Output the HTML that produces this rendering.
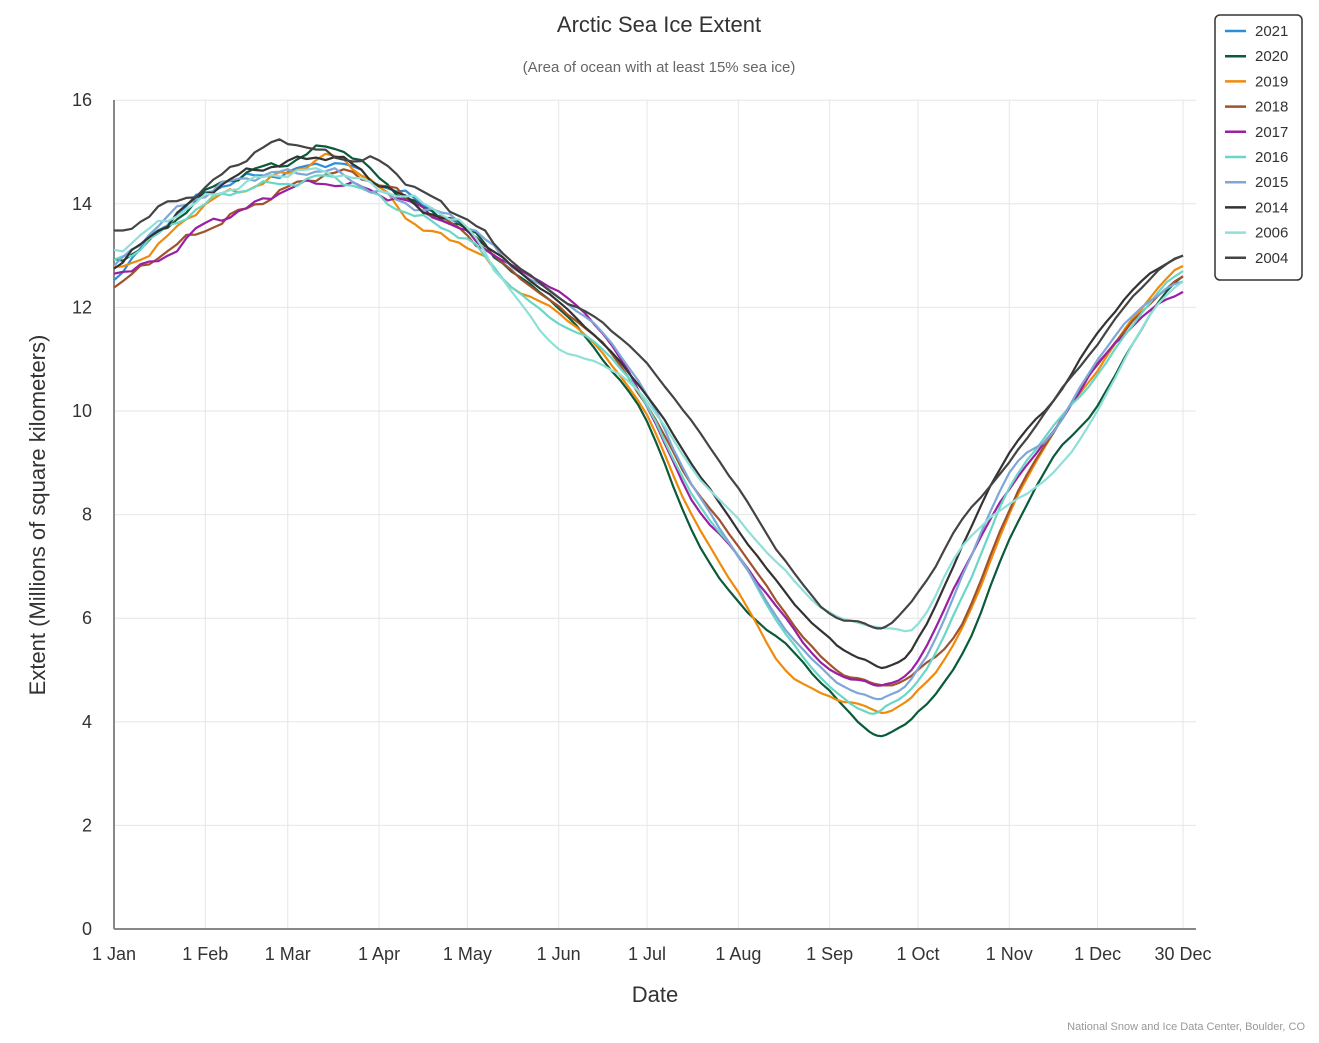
<!DOCTYPE html>
<html><head><meta charset="utf-8"><style>
body{margin:0;background:#fff;}
text{font-family:"Liberation Sans",sans-serif;}
</style></head><body>
<svg id="s" width="1319" height="1038" xmlns="http://www.w3.org/2000/svg">
<rect width="1319" height="1038" fill="#fff"/>
<text x="659" y="32" text-anchor="middle" font-size="22" fill="#333">Arctic Sea Ice Extent</text>
<text x="659" y="72" text-anchor="middle" font-size="15" fill="#666">(Area of ocean with at least 15% sea ice)</text>
<g id="grid" stroke="#e6e6e6" stroke-width="1"></g>
<g id="lbl" font-size="18" fill="#333"></g>
<line x1="114" y1="100" x2="114" y2="929" stroke="#888" stroke-width="2"/>
<line x1="114" y1="929" x2="1196" y2="929" stroke="#888" stroke-width="2"/>
<g id="series" fill="none" stroke-width="2.2" stroke-linejoin="round"></g>
<text x="655" y="1002" text-anchor="middle" font-size="22" fill="#333">Date</text>
<text transform="translate(45,515) rotate(-90)" text-anchor="middle" font-size="22" fill="#333">Extent (Millions of square kilometers)</text>
<text x="1305" y="1030" text-anchor="end" font-size="11" fill="#999">National Snow and Ice Data Center, Boulder, CO</text>
<rect x="1215" y="15" width="87" height="265" rx="5" fill="#fff" stroke="#333" stroke-width="1.5"/>
<g id="leg" font-size="15" fill="#333"></g>
</svg>
<script>
const X=d=>114+d*2.945, Y=v=>929-v*51.8;
const g=document.getElementById('grid'),l=document.getElementById('lbl');
const ns='http://www.w3.org/2000/svg';
function el(p,t,a,txt){const e=document.createElementNS(ns,t);for(const k in a)e.setAttribute(k,a[k]);if(txt!==undefined)e.textContent=String(txt);p.appendChild(e);return e;}
for(let v=2;v<=16;v+=2)el(g,'line',{x1:114,x2:1196,y1:Y(v),y2:Y(v)});
for(let v=0;v<=16;v+=2)el(l,'text',{x:92,y:Y(v)+6,'text-anchor':'end'},v);
const ms=[[0,'1 Jan'],[31,'1 Feb'],[59,'1 Mar'],[90,'1 Apr'],[120,'1 May'],[151,'1 Jun'],[181,'1 Jul'],[212,'1 Aug'],[243,'1 Sep'],[273,'1 Oct'],[304,'1 Nov'],[334,'1 Dec'],[363,'30 Dec']];
ms.forEach(([d,t],i)=>{if(i>0)el(g,'line',{x1:X(d),x2:X(d),y1:100,y2:929});el(l,'text',{x:X(d),y:960,'text-anchor':'middle'},t);});
const D=[0,15,31,45,59,75,90,105,120,135,151,166,181,196,212,228,243,255,262,273,288,304,319,334,349,363];
const S=[
['2004','#444',[13.4,13.9,14.3,14.9,15.2,14.9,14.8,14.2,13.7,12.9,12.2,11.7,10.9,9.8,8.5,7.1,6.1,5.9,5.85,6.5,7.9,9.0,10.2,11.3,12.4,13.0]],
['2006','#8fe0d8',[13.1,13.6,14.1,14.4,14.6,14.6,14.3,14.0,13.5,12.3,11.2,10.9,10.2,8.9,7.9,6.9,6.1,5.9,5.8,5.9,7.4,8.2,8.8,10.0,11.6,12.5]],
['2014','#333',[12.8,13.5,14.2,14.6,14.8,14.9,14.4,13.9,13.5,12.8,12.1,11.3,10.3,9.0,7.7,6.5,5.6,5.2,5.05,5.6,7.4,9.2,10.2,11.5,12.5,13.0]],
['2015','#7ea6d8',[12.8,13.6,14.2,14.5,14.6,14.6,14.2,13.9,13.6,12.8,12.2,11.5,10.3,8.6,7.2,5.8,4.9,4.5,4.5,5.0,6.8,8.8,9.6,11.0,12.0,12.5]],
['2016','#6ad6c6',[12.9,13.4,14.0,14.3,14.4,14.5,14.1,13.7,13.3,12.4,11.7,11.2,10.1,8.4,7.2,5.7,4.7,4.2,4.3,4.8,6.4,8.5,9.7,10.7,11.9,12.7]],
['2017','#9a1fa2',[12.7,12.9,13.6,13.9,14.3,14.4,14.2,13.9,13.4,12.8,12.3,11.5,10.1,8.3,7.2,6.0,5.0,4.8,4.7,5.2,6.9,8.5,9.6,10.9,11.8,12.3]],
['2018','#a0522d',[12.4,13.0,13.5,13.9,14.3,14.6,14.4,13.9,13.4,12.7,12.0,11.3,10.1,8.6,7.4,6.1,5.1,4.8,4.7,5.0,5.9,8.1,9.6,10.9,11.9,12.6]],
['2019','#f08a0a',[12.7,13.2,14.0,14.3,14.6,14.9,14.3,13.5,13.2,12.4,11.9,11.1,9.9,8.0,6.5,5.0,4.5,4.3,4.2,4.6,5.8,8.0,9.6,10.8,12.0,12.8]],
['2020','#0b5a3a',[12.9,13.4,14.2,14.6,14.8,15.1,14.5,13.9,13.5,12.7,12.0,11.0,9.8,7.7,6.3,5.5,4.6,3.9,3.75,4.2,5.3,7.5,9.1,10.1,11.6,12.6]],
['2021','#2a8fd8',[12.6,13.5,14.2,14.5,14.6,14.8,14.4,14.0,13.5]],
];
const sg=document.getElementById('series');
function wob(i,d){return 0.06*Math.sin(d*0.35+i*1.7)+0.03*Math.sin(d*0.8+i);}
S.slice().reverse().forEach(([n,c,v],k)=>{let pts=[];const i=S.length-k;
 for(let j=0;j<v.length-1;j++){for(let t=0;t<1;t+=0.2){const d=D[j]+(D[j+1]-D[j])*t;
  const a=v[Math.max(j-1,0)],b=v[j],cc=v[j+1],e=v[Math.min(j+2,v.length-1)];
  const t2=t*t,t3=t2*t;const val=0.5*((2*b)+(-a+cc)*t+(2*a-5*b+4*cc-e)*t2+(-a+3*b-3*cc+e)*t3);
  const w=d<130?wob(i,d):wob(i,d)*0.3;pts.push(X(d).toFixed(1)+','+Y(val+w).toFixed(1));}}
 pts.push(X(D[v.length-1]).toFixed(1)+','+Y(v[v.length-1]).toFixed(1));
 el(sg,'polyline',{points:pts.join(' '),stroke:c});});
const lg=document.getElementById('leg');
const order=['2021','2020','2019','2018','2017','2016','2015','2014','2006','2004'];
order.forEach((n,j)=>{const c=S.find(s=>s[0]==n)[1];const y=31+j*25.2;
 el(lg,'line',{x1:1225,x2:1246,y1:y,y2:y,stroke:c,'stroke-width':2.5});
 el(lg,'text',{x:1255,y:y+5},n);});
</script>
</body></html>
